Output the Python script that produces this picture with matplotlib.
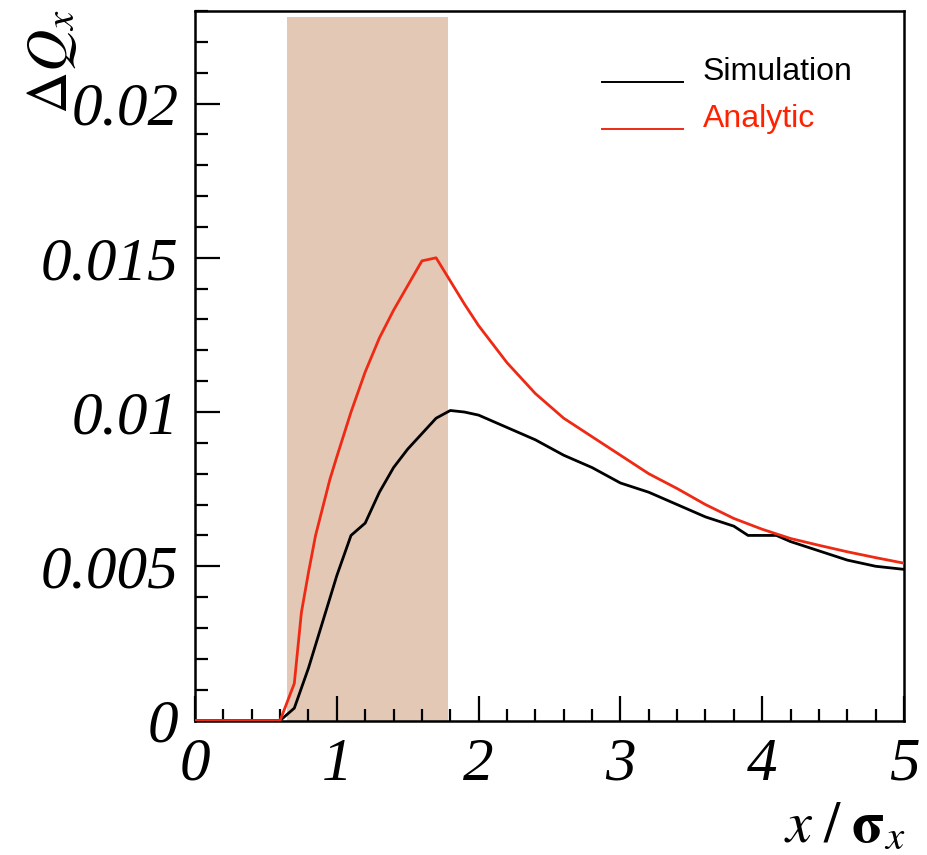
import matplotlib
matplotlib.use("Agg")
import matplotlib.pyplot as plt
from matplotlib.ticker import MultipleLocator, FixedLocator

plt.rcParams['mathtext.fontset'] = 'stix'

# Simulated tune shift
sim_x = [0.0, 0.6, 0.7, 0.8, 0.9, 1.0, 1.1, 1.2, 1.3, 1.4, 1.5, 1.6, 1.7, 1.8,
         1.9, 2.0, 2.2, 2.4, 2.6, 2.8, 3.0, 3.2, 3.4, 3.6, 3.8, 3.9, 4.1, 4.2,
         4.4, 4.6, 4.8, 5.0]
sim_y = [0.0, 0.0, 0.0004, 0.0017, 0.0032, 0.0047, 0.0060, 0.0064, 0.0074,
         0.0082, 0.0088, 0.0093, 0.0098, 0.01005, 0.0100, 0.0099, 0.0095,
         0.0091, 0.0086, 0.0082, 0.0077, 0.0074, 0.0070, 0.0066, 0.0063,
         0.0060, 0.0060, 0.0058, 0.0055, 0.0052, 0.0050, 0.0049]

# Analytic tune shift
ana_x = [0.0, 0.6, 0.7, 0.75, 0.8, 0.85, 0.9, 0.95, 1.0, 1.1, 1.2, 1.3, 1.4,
         1.5, 1.6, 1.7, 1.8, 1.9, 2.0, 2.1, 2.2, 2.3, 2.4, 2.5, 2.6, 2.8, 3.0,
         3.2, 3.4, 3.6, 3.8, 4.0, 4.2, 4.4, 4.6, 4.8, 5.0]
ana_y = [0.0, 0.0, 0.0012, 0.0035, 0.0048, 0.0060, 0.0069, 0.0078, 0.00855,
         0.0100, 0.0113, 0.0124, 0.0133, 0.0141, 0.0149, 0.0150, 0.01425,
         0.0135, 0.0128, 0.0122, 0.0116, 0.0111, 0.0106, 0.0102, 0.0098,
         0.0092, 0.0086, 0.0080, 0.00752, 0.0070, 0.00655, 0.0062, 0.0059,
         0.00568, 0.00547, 0.00528, 0.0051]

# Highlighted region
band_x = [0.65, 1.785]
band_top = 0.0228

x_ticks = [0, 1, 2, 3, 4, 5]
y_ticks = [0, 0.005, 0.01, 0.015, 0.02]
y_tick_labels = ['0', '0.005', '0.01', '0.015', '0.02']

red = '#ee2a14'

fig = plt.figure(figsize=(9.27, 8.55), dpi=100)
ax = fig.add_axes([0.2104, 0.1573, 0.7648, 0.8298])

ax.fill_between(band_x, 0, band_top, color='#e4c8b6', lw=0, zorder=1)
ax.plot(sim_x, sim_y, color='black', lw=2.0, zorder=3)
ax.plot(ana_x, ana_y, color=red, lw=2.0, zorder=4)

ax.set_xlim(0, 5)
ax.set_ylim(0, 0.023)

ax.xaxis.set_major_locator(FixedLocator(x_ticks))
ax.xaxis.set_minor_locator(MultipleLocator(0.2))
ax.yaxis.set_major_locator(FixedLocator(y_ticks))
ax.yaxis.set_minor_locator(MultipleLocator(0.001))
ax.set_xticklabels([str(t) for t in x_ticks])
ax.set_yticklabels(y_tick_labels)

for lab in ax.get_xticklabels() + ax.get_yticklabels():
    lab.set_fontfamily('Liberation Serif')
    lab.set_fontstyle('italic')
    lab.set_fontsize(44)

ax.tick_params(which='both', direction='in', top=False, right=False,
               width=1.6, color='black')
ax.tick_params(which='major', length=18, pad=12)
ax.tick_params(which='minor', length=9)
for s in ax.spines.values():
    s.set_linewidth(1.8)

# Axis titles
fig.text(0.055, 1 - 62 / 855, r'$\Delta Q_{x}$', rotation=90,
         ha='center', va='center', fontsize=42)
fig.text(0.977, 1 - 826 / 855, r'$x\;/\;\mathbf{\sigma}_{x}$',
         ha='right', va='center', fontsize=42)

# Legend
ax.plot([2.87, 3.44], [0.02071, 0.02071], color='black', lw=1.4, zorder=5)
ax.plot([2.87, 3.44], [0.01918, 0.01918], color=red, lw=1.4, zorder=5)
ax.text(3.58, 0.02077, 'Simulation', color='black', fontsize=23,
        fontfamily='Liberation Sans', ha='left', va='baseline')
ax.text(3.58, 0.01924, 'Analytic', color='#ff2200', fontsize=23,
        fontfamily='Liberation Sans', ha='left', va='baseline')

fig.savefig('out.png', dpi=100)
